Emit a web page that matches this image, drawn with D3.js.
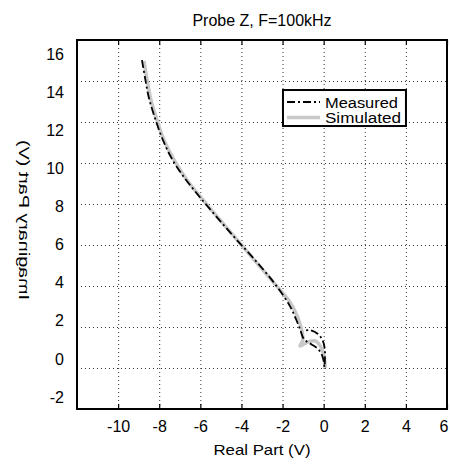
<!DOCTYPE html>
<html lang="en">
<head>
<meta charset="UTF-8">
<script src="https://cdn.jsdelivr.net/npm/d3@7"></script>
<title>Probe Z</title>
<style>
  body { margin: 0; background: #fff; }
  text { font-family: "Liberation Sans", Arial, sans-serif; fill: #000; }
</style>
</head>
<body>
<div id="viz"></div>
<script>
// tick values
const xTicks = [-10, -8, -6, -4, -2, 0, 2, 4, 6]
const yTicks = [16, 14, 12, 10, 8, 6, 4, 2, 0, -2]

// measured curve (real, imag)
const measRe = [-8.84, -8.69, -8.50, -8.21, -7.86, -7.43, -6.84, -6.11, -5.24, -4.31, -3.34, -2.37, -1.64, -1.35, -1.15,
                -0.96, -0.62, -0.28, -0.08, 0.01, 0.04, 0.06, 0.06, -0.04, -0.28, -0.67, -1.01]
const measIm = [15.02, 14.15, 13.17, 12.20, 11.22, 10.29, 9.37, 8.44, 7.41, 6.34, 5.27, 4.10, 3.02, 2.39, 1.90,
                1.41, 1.17, 0.93, 0.63, 0.29, 0.05, 0.39, 0.88, 1.32, 1.66, 1.85, 1.80]

// simulated curve
const simRe = [-8.74, -8.59, -8.40, -8.11, -7.77, -7.28, -6.65, -5.87, -5.04, -4.17, -3.29, -2.42, -1.64, -1.25, -1.05,
               -1.01, -1.15, -0.76, -0.42, -0.13, 0.02, 0.07]
const simIm = [14.98, 14.05, 13.07, 12.10, 11.12, 10.15, 9.17, 8.20, 7.22, 6.20, 5.17, 4.15, 3.22, 2.44, 1.76,
               1.37, 1.07, 1.27, 1.32, 1.02, 0.59, 0.00]

const legendNames = ["Measured", "Simulated"]

const fullWidth = 450
const fullHeight = 464
const margins = { top: 40, right: 3, bottom: 55, left: 77 }
const width = fullWidth - margins.left - margins.right
const height = fullHeight - margins.top - margins.bottom

const svg = d3.select("#viz").append("svg")
    .attr("width", fullWidth)
    .attr("height", fullHeight)

const g = svg.append("g")
    .attr("transform", "translate(" + margins.left + "," + margins.top + ")")

const xScale = d3.scaleLinear().domain([-12, 6]).range([0, width])
const yScale = d3.scaleLinear().domain([-2, 16]).range([height, 0])
// the tick labels on the y axis sit slightly off the grid in the original
const yLabelScale = d3.scaleLinear().domain([-2, 16]).range([height - 12, 14])

// grid
g.append("g")
    .attr("transform", "translate(0," + height + ")")
    .call(d3.axisBottom(xScale).tickValues(xTicks.filter(d => d > -12 && d < 6)).tickSize(-height).tickFormat(""))
    .call(a => a.select(".domain").remove())
    .selectAll("line")
    .attr("stroke", "#333").attr("stroke-dasharray", "1,3")

g.append("g")
    .call(d3.axisLeft(yScale).tickValues(yTicks.filter(d => d > -2 && d < 16)).tickSize(-width).tickFormat(""))
    .call(a => a.select(".domain").remove())
    .selectAll("line")
    .attr("stroke", "#333").attr("stroke-dasharray", "1,3")

// inner tick marks on the x axis (bottom and top)
g.append("g")
    .attr("transform", "translate(0," + height + ")")
    .call(d3.axisBottom(xScale).tickValues(xTicks).tickSizeInner(-5).tickSizeOuter(0).tickFormat(d => String(d)))
    .call(a => a.select(".domain").remove())
    .call(a => a.selectAll("line").attr("stroke", "#000").attr("stroke-width", 1.2))
    .call(a => a.selectAll("text").attr("font-size", 16).attr("dy", 0).attr("y", 23))
    .call(a => a.selectAll("text").filter(d => d === 6).attr("text-anchor", "end").attr("x", 1))

g.append("g")
    .call(d3.axisTop(xScale).tickValues(xTicks).tickSizeInner(-5).tickSizeOuter(0).tickFormat(""))
    .call(a => a.select(".domain").remove())
    .selectAll("line").attr("stroke", "#000").attr("stroke-width", 1.2)

g.append("g")
    .call(d3.axisLeft(yLabelScale).tickValues(yTicks).tickSize(0).tickPadding(13).tickFormat(d => String(d)))
    .call(a => a.select(".domain").remove())
    .selectAll("text").attr("font-size", 16)

// lines
const line = d3.line().x(d => xScale(d[0])).y(d => yScale(d[1])).curve(d3.curveCatmullRom.alpha(0.5))
const simData = d3.zip(simRe, simIm)
const measData = d3.zip(measRe, measIm)

g.append("path").datum(simData)
    .attr("d", line)
    .attr("fill", "none").attr("stroke", "#c8c8c8").attr("stroke-width", 3.5)

g.append("path").datum(measData)
    .attr("d", line)
    .attr("fill", "none").attr("stroke", "#000").attr("stroke-width", 1.8)
    .attr("stroke-dasharray", "8,3,2,3")

// box
g.append("rect")
    .attr("width", width).attr("height", height)
    .attr("fill", "none").attr("stroke", "#000").attr("stroke-width", 2)

// legend
const legend = g.append("g").attr("transform", "translate(" + xScale(-1.98) + "," + yScale(13.56) + ")")
legend.append("rect")
    .attr("width", 123).attr("height", 36)
    .attr("fill", "#fff").attr("stroke", "#000").attr("stroke-width", 2)
legendNames.forEach((name, i) => {
    legend.append("line")
        .attr("x1", 4).attr("x2", 37)
        .attr("y1", 12 + i * 15.4).attr("y2", 12 + i * 15.4)
        .attr("stroke", i === 0 ? "#000" : "#c8c8c8")
        .attr("stroke-width", i === 0 ? 1.8 : 3.5)
        .attr("stroke-dasharray", i === 0 ? "8,3,2,3" : null)
    legend.append("text")
        .attr("x", 42).attr("y", 17.5 + i * 15)
        .attr("font-size", 14)
        .attr("textLength", i === 0 ? 73 : 76).attr("lengthAdjust", "spacingAndGlyphs")
        .text(name)
})

// title and axis labels
svg.append("text")
    .attr("x", margins.left + width / 2).attr("y", 26)
    .attr("text-anchor", "middle").attr("font-size", 16)
    .text("Probe Z, F=100kHz")

svg.append("text")
    .attr("x", margins.left + width / 2).attr("y", 455)
    .attr("text-anchor", "middle").attr("font-size", 15)
    .attr("textLength", 97).attr("lengthAdjust", "spacingAndGlyphs")
    .text("Real Part (V)")

svg.append("text")
    .attr("transform", "translate(19," + 220 + ") rotate(-90) scale(1,-1)")
    .attr("text-anchor", "middle").attr("font-size", 15)
    .attr("textLength", 160).attr("lengthAdjust", "spacingAndGlyphs")
    .text("Imaginary Part (V)")
</script>
</body>
</html>
